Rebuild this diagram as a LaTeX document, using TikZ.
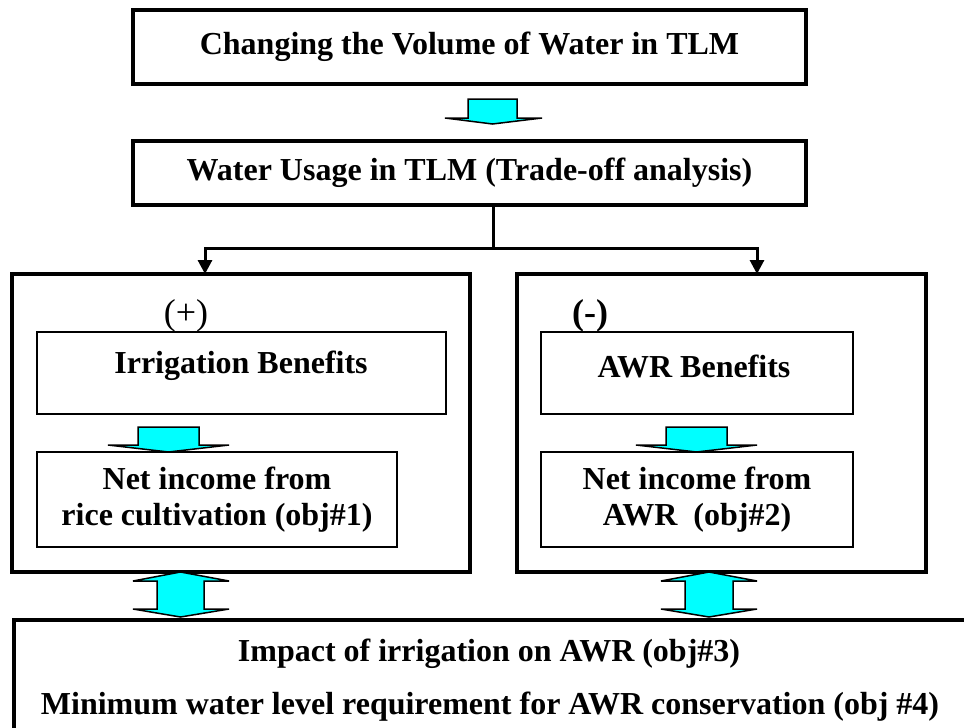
\documentclass[tikz,border=0pt]{standalone}
\usepackage{fontspec}
\setmainfont{Liberation Serif}
\usepackage{tikz}
\usetikzlibrary{arrows.meta}
\definecolor{aqua}{RGB}{0,255,255}
\tikzstyle{bigbox}=[
	draw=black,
	line width=4pt,
	inner sep=0pt
]
\tikzstyle{smallbox}=[
	draw=black,
	line width=1.5pt,
	inner sep=0pt
]
\tikzstyle{txt}=[
	font=\fontsize{32}{36}\selectfont\bfseries,
	align=center,
	inner sep=0pt
]
\tikzstyle{edge}=[
	line width=3pt,
	draw=black,
	-{Triangle[length=14pt,width=14pt]}
]
\tikzstyle{blockarrow}=[
	fill=aqua,
	draw=black,
	line width=1.5pt,
	line join=miter
]

\begin{document}
\begin{tikzpicture}[x=1pt,y=-1pt]
\clip (0,0) rectangle (964,728);
\node[bigbox, txt, minimum width=673pt, minimum height=74pt] (change) at (469.5,47) {Changing the Volume of Water in TLM};
\node[bigbox, txt, minimum width=673pt, minimum height=64pt] (usage) at (469.5,173) {Water Usage in TLM (Trade-off analysis)};

\node[bigbox, minimum width=458pt, minimum height=298pt] (plus) at (241,423) {};
\node[bigbox, minimum width=409pt, minimum height=298pt] (minus) at (721.5,423) {};
\node[font=\fontsize{36}{40}\selectfont, inner sep=0pt] (pos) at (186,316) {(+)};
\node[font=\fontsize{36}{40}\selectfont\bfseries, inner sep=0pt] (neg) at (590,316) {(-)};

\node[smallbox, minimum width=409pt, minimum height=82pt] (irrig) at (241.5,373) {};
\node[txt] (irrigtxt) at (241,366) {Irrigation Benefits};
\node[smallbox, minimum width=312pt, minimum height=82pt] (awr) at (697,373) {};
\node[txt] (awrtxt) at (694,366) {AWR Benefits};
\node[smallbox, txt, minimum width=360pt, minimum height=95pt] (rice) at (217,499.5) {Net income from\\rice cultivation (obj\#1)};
\node[smallbox, txt, minimum width=312pt, minimum height=95pt] (awrinc) at (697,499.5) {Net income from\\AWR~~(obj\#2)};

\node[bigbox, minimum width=980pt, minimum height=130pt, anchor=north west] (impact) at (12,618) {};
\node[txt] (obj3) at (489,654) {Impact of irrigation on AWR (obj\#3)};
\node[txt] (obj4) at (490,707) {Minimum water level requirement for AWR conservation (obj \#4)};

\coordinate (split) at (493,248);
\coordinate (pin) at (205,274);
\coordinate (min) at (757,274);
\draw[line width=3pt] (usage.south -| split) -- (split);
\draw[edge] (split) -| (pin);
\draw[edge] (split) -| (min);

\draw[blockarrow] (468,99) -- (517,99) -- (517,118) -- (542,118) -- (492.5,124) -- (445,118) -- (468,118) -- cycle;
\draw[blockarrow] (138,427) -- (199,427) -- (199,445) -- (229,445) -- (168.5,452) -- (108,445) -- (138,445) -- cycle;
\draw[blockarrow] (666,427) -- (727,427) -- (727,445) -- (757,445) -- (696.5,452) -- (636,445) -- (666,445) -- cycle;
\draw[blockarrow] (180.5,572) -- (229,581) -- (204,581) -- (204,609) -- (229,609) -- (180.5,617) -- (133,609) -- (157,609) -- (157,581) -- (133,581) -- cycle;
\draw[blockarrow] (709,572) -- (757,581) -- (733,581) -- (733,609) -- (757,609) -- (709,617) -- (661,609) -- (685,609) -- (685,581) -- (661,581) -- cycle;
\end{tikzpicture}
\end{document}
